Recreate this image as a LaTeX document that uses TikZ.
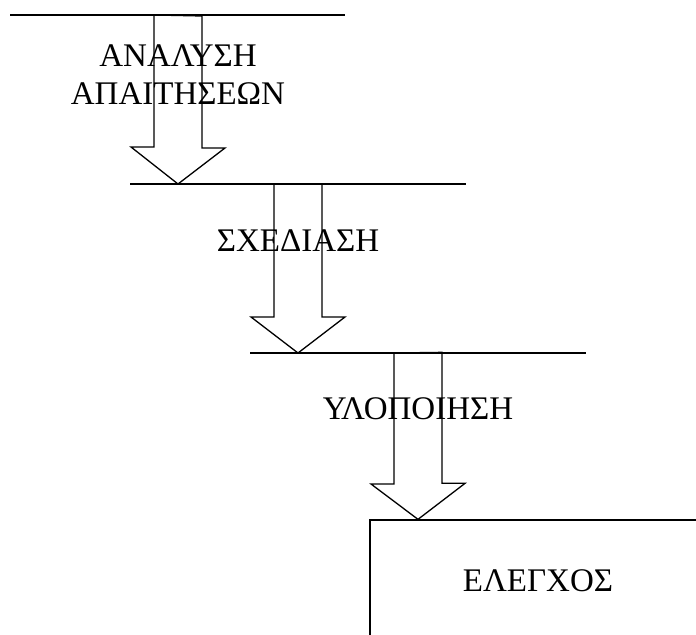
\documentclass[tikz,border=0pt]{standalone}
\usepackage{fontspec}
\setmainfont{Liberation Serif}
\usepackage{tikz}
\usetikzlibrary{calc,positioning}

\begin{document}
\begin{tikzpicture}[
  x=0.5pt, y=-0.5pt,
  bar/.style={line width=1.1pt},
  flow/.style={line width=0.65pt, line join=miter},
  stage/.style={align=center, inner sep=0pt, font=\fontsize{16.5}{19}\selectfont},
  testbox/.style={rectangle, draw, line width=0.65pt, minimum width=168pt, minimum height=61pt, font=\fontsize{16.5}{19}\selectfont},
]
  \clip (0,0) rectangle (696,635);

  % phase bars
  \coordinate (bar1l) at (10,15);   \coordinate (bar1r) at (345,15);
  \coordinate (bar2l) at (130,184); \coordinate (bar2r) at (466,184);
  \coordinate (bar3l) at (250,353); \coordinate (bar3r) at (586,353);
  \draw[bar] (bar1l) -- (bar1r);
  \draw[bar] (bar2l) -- (bar2r);
  \draw[bar] (bar3l) -- (bar3r);

  \node[testbox] (testing) at (538,581) {ΕΛΕΓΧΟΣ};

  % arrow start points
  \coordinate (top1) at (178,15);
  \coordinate (top2) at (298,184);
  \coordinate (top3) at (418,353);

  \draw[flow] (top1) ++(-24,0) -- ++(0,132) -- ++(-23,0) -- (top1 |- bar2l) -- ++(47,-36) -- ++(-23,0) -- ++(0,-132) -- cycle;
  \draw[flow] (top2) ++(-24,0) -- ++(0,133) -- ++(-23,0) -- (top2 |- bar3l) -- ++(47,-36) -- ++(-23,0) -- ++(0,-133) -- cycle;
  \draw[flow] (top3) ++(-24,0) -- ++(0,131) -- ++(-23,0) -- (testing.north -| top3) -- ++(47,-36) -- ++(-23,0) -- ++(0,-131) -- cycle;

  \node[stage] (analysis) at (178,75) {ΑΝΑΛΥΣΗ\\ΑΠΑΙΤΗΣΕΩΝ};
  \node[stage, anchor=base] (design) at (298,252) {ΣΧΕΔΙΑΣΗ};
  \node[stage, anchor=base] (coding) at (418,420) {ΥΛΟΠΟΙΗΣΗ};
\end{tikzpicture}
\end{document}
